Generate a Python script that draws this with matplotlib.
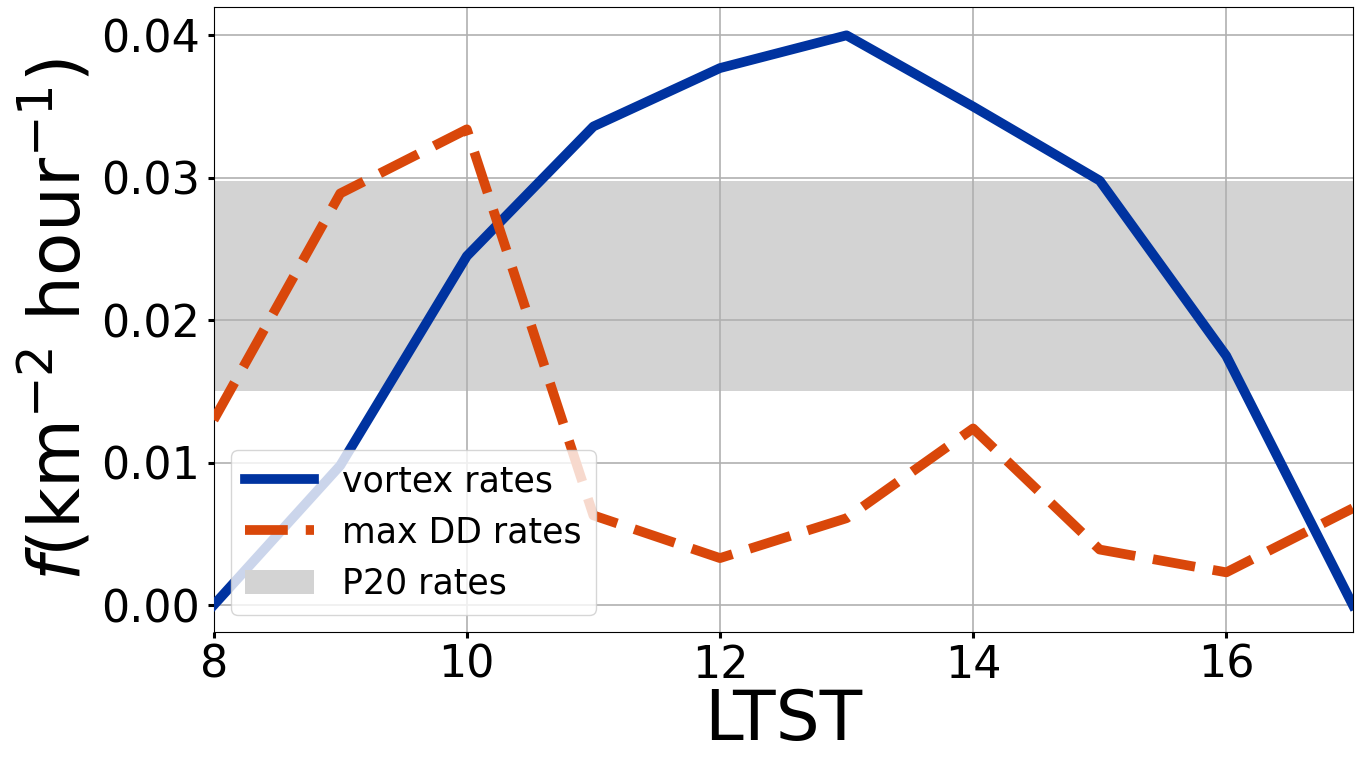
import numpy as np
import matplotlib
matplotlib.use('Agg')
import matplotlib.pyplot as plt

ltst = [8, 9, 10, 11, 12, 13, 14, 15, 16, 17]
vortex_rates = [0.0, 0.0098, 0.0245, 0.0336, 0.0377, 0.0400, 0.0350, 0.0298, 0.0175, 0.0]
dd_rates = [0.0130, 0.0289, 0.0334, 0.0063, 0.0033, 0.0061, 0.0124, 0.0039, 0.0023, 0.0068]
p20_low = 0.0150
p20_high = 0.0298

fig = plt.figure(figsize=(13.61, 7.58), dpi=100)
ax = fig.add_axes([0.157, 0.166, 0.837, 0.825])

ax.axhspan(p20_low, p20_high, color='lightgray', lw=0, label='P20 rates', zorder=1)
ax.plot(ltst, vortex_rates, color='#0033A0', lw=7, label='vortex rates', zorder=3)
ax.plot(ltst, dd_rates, color='#D9470A', lw=7, ls='--', dashes=(4.4, 1.85),
        label='max DD rates', zorder=3)

ax.set_xlim(8, 17)
ax.set_ylim(-0.0019, 0.0420)
ax.set_xticks([8, 10, 12, 14, 16])
ax.set_yticks([0.0, 0.01, 0.02, 0.03, 0.04])
ax.yaxis.set_major_formatter(matplotlib.ticker.FormatStrFormatter('%.2f'))
ax.tick_params(axis='both', labelsize=32, width=2.2, length=4.5, pad=5)
ax.tick_params(axis='x', pad=4)
ax.grid(True, color='#b0b0b0', lw=1.2)

ax.set_xlabel('LTST', fontsize=50, labelpad=0)
ax.set_ylabel(r'$f$(km$^{-2}$ hour$^{-1}$)', fontsize=51)

handles, labels = ax.get_legend_handles_labels()
order = [1, 2, 0]
ax.legend([handles[i] for i in order], [labels[i] for i in order],
          loc='lower left', fontsize=25)

plt.savefig('out.png', dpi=100)
plt.close()
